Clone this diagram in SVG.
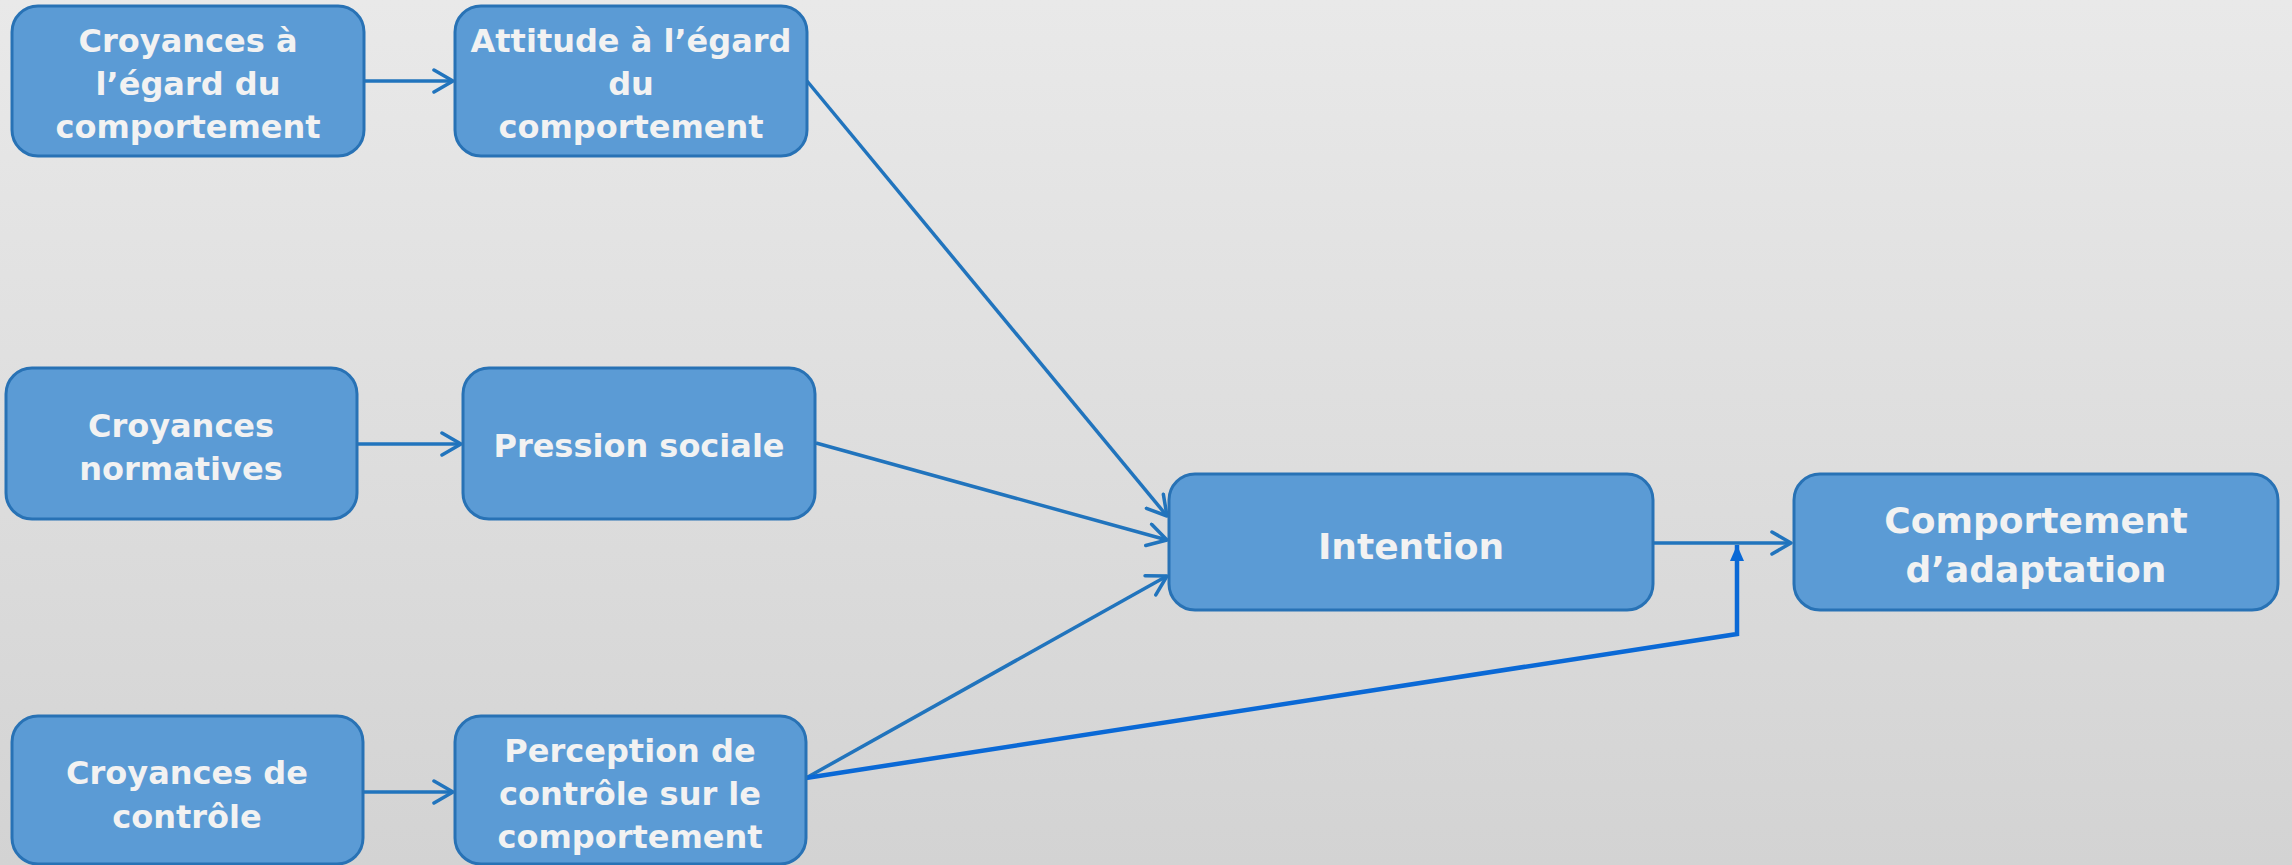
<svg xmlns="http://www.w3.org/2000/svg" width="2292" height="865" viewBox="0 0 2292 865">
<defs>
<linearGradient id="bg" x1="0" y1="0" x2="0" y2="1">
<stop offset="0" stop-color="#E9E9E9"/>
<stop offset="1" stop-color="#D3D3D3"/>
</linearGradient>
<marker id="open" markerUnits="userSpaceOnUse" markerWidth="26" markerHeight="26" viewBox="0 0 26 26" refX="21" refY="13" orient="auto">
<path d="M2,2 L21,13 L2,24" fill="none" stroke="#2174BD" stroke-width="3.5" stroke-linecap="round" stroke-linejoin="round"/>
</marker>
<marker id="solid" markerUnits="userSpaceOnUse" markerWidth="18" markerHeight="18" viewBox="0 0 18 18" refX="16" refY="9" orient="auto">
<path d="M0,2 L16,9 L0,16 Z" fill="#0A69D6"/>
</marker>
</defs>
<style>
.box{fill:#5B9BD5;stroke:#2872B5;stroke-width:3}
.t{font-family:"DejaVu Sans","Liberation Sans",sans-serif;font-weight:bold;fill:#F2F2F2;text-anchor:middle;font-size:32px}
.tb{font-size:36px}
.c{fill:none;stroke:#2174BD;stroke-width:3.5}
.c2{fill:none;stroke:#0A69D6;stroke-width:4.5}
</style>
<rect width="2292" height="865" fill="url(#bg)"/>
<g id="connectors">
<line class="c" x1="364" y1="81" x2="453" y2="81" marker-end="url(#open)"/>
<line class="c" x1="357" y1="444" x2="461" y2="444" marker-end="url(#open)"/>
<line class="c" x1="363" y1="792" x2="453" y2="792" marker-end="url(#open)"/>
<line class="c" x1="807" y1="81" x2="1167" y2="516" marker-end="url(#open)"/>
<line class="c" x1="816" y1="443" x2="1167" y2="540" marker-end="url(#open)"/>
<line class="c" x1="806" y1="778" x2="1167" y2="576" marker-end="url(#open)"/>
<line class="c" x1="1653" y1="543" x2="1791" y2="543" marker-end="url(#open)"/>
<polyline class="c2" points="806,778 1737,634 1737,545" marker-end="url(#solid)" stroke-linejoin="miter"/>
</g>
<g id="n1"><rect class="box" x="12" y="6" width="352" height="150" rx="26"/>
<text class="t" x="188" y="52">Croyances à</text><text class="t" x="188" y="95">l’égard du</text><text class="t" x="188" y="138">comportement</text></g>
<g id="n2"><rect class="box" x="455" y="6" width="352" height="150" rx="26"/>
<text class="t" x="631" y="52">Attitude à l’égard</text><text class="t" x="631" y="95">du</text><text class="t" x="631" y="138">comportement</text></g>
<g id="n3"><rect class="box" x="6" y="368" width="351" height="151" rx="26"/>
<text class="t" x="181" y="437">Croyances</text><text class="t" x="181" y="480">normatives</text></g>
<g id="n4"><rect class="box" x="463" y="368" width="352" height="151" rx="26"/>
<text class="t" x="639" y="457">Pression sociale</text></g>
<g id="n5"><rect class="box" x="12" y="716" width="351" height="148" rx="26"/>
<text class="t" x="187" y="784">Croyances de</text><text class="t" x="187" y="828">contrôle</text></g>
<g id="n6"><rect class="box" x="455" y="716" width="351" height="148" rx="26"/>
<text class="t" x="630" y="762">Perception de</text><text class="t" x="630" y="805">contrôle sur le</text><text class="t" x="630" y="848">comportement</text></g>
<g id="n7"><rect class="box" x="1169" y="474" width="484" height="136" rx="26"/>
<text class="t tb" x="1411" y="559">Intention</text></g>
<g id="n8"><rect class="box" x="1794" y="474" width="484" height="136" rx="26"/>
<text class="t tb" x="2036" y="533">Comportement</text><text class="t tb" x="2036" y="582">d’adaptation</text></g>
</svg>
